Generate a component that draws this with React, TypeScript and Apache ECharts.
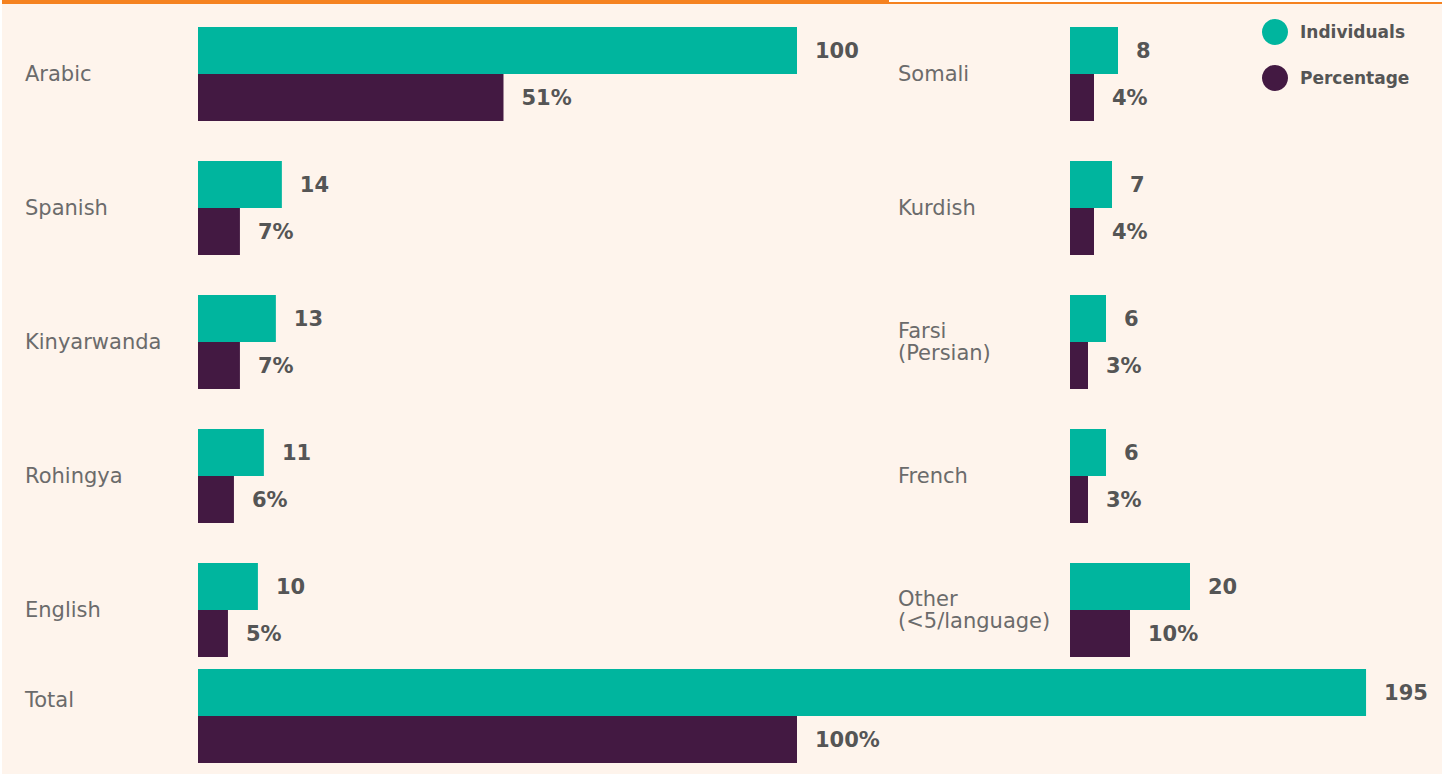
import React, { useEffect, useRef } from "react";
import * as echarts from "echarts";

const leftCategories = ["Arabic", "Spanish", "Kinyarwanda", "Rohingya", "English"];
const leftIndividuals = [100, 14, 13, 11, 10];
const leftPercentage = [51, 7, 7, 6, 5];

const rightCategories = ["Somali", "Kurdish", "Farsi\n(Persian)", "French", "Other\n(<5/language)"];
const rightIndividuals = [8, 7, 6, 6, 20];
const rightPercentage = [4, 4, 3, 3, 10];

const totalCategories = ["Total"];
const totalIndividuals = [195];
const totalPercentage = [100];

const TEAL = "#00B59E";
const PURPLE = "#431942";
const BG = "#FEF4EC";
const LABEL_FONT = "'DejaVu Sans', sans-serif";
const VALUE_FONT = "'DejaVu Sans', sans-serif";

export default function App() {
  const ref = useRef<HTMLDivElement>(null);
  useEffect(() => {
    if (!ref.current) return;
    const chart = echarts.init(ref.current, undefined, { renderer: "svg" });

    const valueLabel = (pct: boolean) => ({
      show: true,
      position: "right",
      distance: 18,
      color: "#555555",
      fontFamily: VALUE_FONT,
      fontWeight: "bold",
      fontSize: 21,
      formatter: pct ? "{c}%" : "{c}",
    });

    const yAxisBase = (cats: string[], gi: number, margin: number, lineHeight: number, formatter?: (v: string) => string) => ({
      type: "category",
      gridIndex: gi,
      data: cats,
      inverse: true,
      axisLine: { show: false },
      axisTick: { show: false },
      axisLabel: {
        align: "left",
        margin,
        color: "#6b6b6b",
        fontFamily: LABEL_FONT,
        fontSize: 21,
        lineHeight,
        formatter: formatter || ((v: string) => v),
      },
    });

    const xAxisBase = (gi: number, max: number) => ({
      type: "value",
      gridIndex: gi,
      min: 0,
      max,
      show: false,
      splitLine: { show: false },
    });

    const barSeries = (name: string, color: string, data: number[], gi: number, pct: boolean) => ({
      name,
      type: "bar",
      xAxisIndex: gi,
      yAxisIndex: gi,
      data,
      barWidth: 47,
      barGap: "0%",
      itemStyle: { color },
      label: valueLabel(pct),
    });

    chart.setOption({
      animation: false,
      backgroundColor: BG,
      legend: {
        data: ["Individuals", "Percentage"],
        orient: "vertical",
        left: 1257,
        top: 14,
        icon: "circle",
        itemWidth: 26,
        itemHeight: 26,
        itemGap: 20,
        textStyle: {
          color: "#555555",
          fontFamily: VALUE_FONT,
          fontWeight: "bold",
          fontSize: 17,
          padding: [0, 0, 0, 7],
        },
      },
      graphic: [
        { type: "rect", shape: { x: 0, y: 0, width: 889, height: 4 }, style: { fill: "#F58220" } },
        { type: "rect", shape: { x: 0, y: 0, width: 2, height: 774 }, style: { fill: "#ffffff" } },
        { type: "rect", shape: { x: 889, y: 0, width: 553, height: 2 }, style: { fill: "#ffffff" } },
        { type: "rect", shape: { x: 889, y: 2, width: 553, height: 2 }, style: { fill: "#F58220" } },
      ],
      grid: [
        { left: 198, top: 7, width: 1198, height: 670 },
        { left: 1070, top: 7, width: 360, height: 670 },
        { left: 198, top: 669, width: 1198, height: 94 },
      ],
      xAxis: [xAxisBase(0, 200), xAxisBase(1, 60), xAxisBase(2, 200)],
      yAxis: [
        yAxisBase(leftCategories, 0, 173, 22),
        yAxisBase(rightCategories, 1, 172, 22),
        yAxisBase(totalCategories, 2, 173, 32, (v: string) => v + "\n "),
      ],
      series: [
        barSeries("Individuals", TEAL, leftIndividuals, 0, false),
        barSeries("Percentage", PURPLE, leftPercentage, 0, true),
        barSeries("Individuals", TEAL, rightIndividuals, 1, false),
        barSeries("Percentage", PURPLE, rightPercentage, 1, true),
        barSeries("Individuals", TEAL, totalIndividuals, 2, false),
        barSeries("Percentage", PURPLE, totalPercentage, 2, true),
      ],
    });
    return () => chart.dispose();
  }, []);
  return (
    <div
      ref={ref}
      style={{ position: "fixed", left: 0, top: 0, width: 1442, height: 774 }}
    />
  );
}
